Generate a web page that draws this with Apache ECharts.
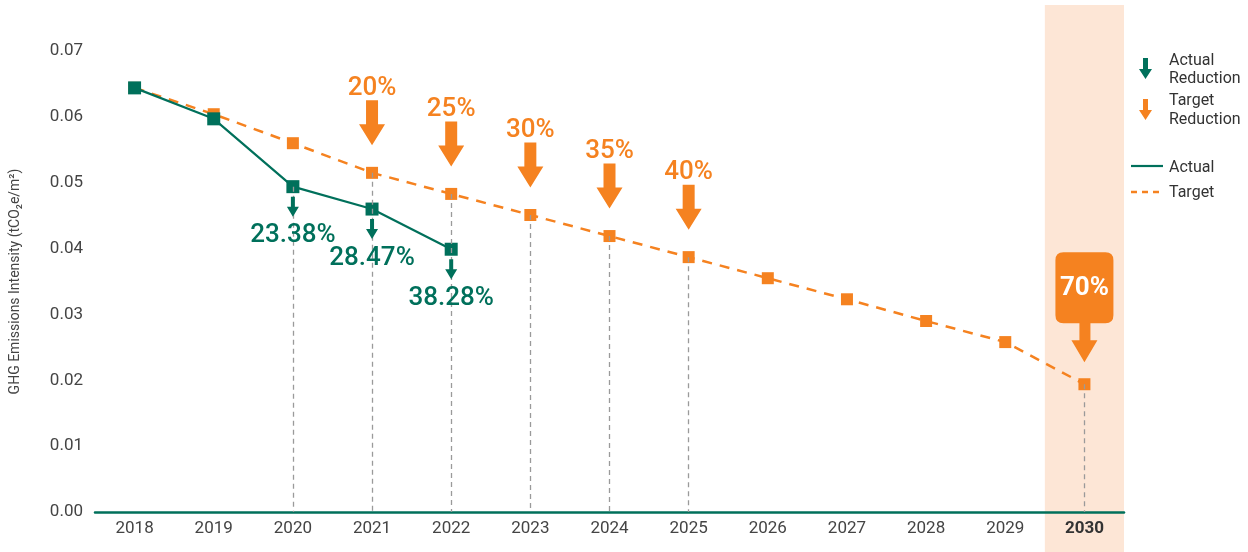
<!DOCTYPE html>
<html>
<head>
<meta charset="utf-8">
<script src="https://cdn.jsdelivr.net/npm/echarts@6/dist/echarts.min.js"></script>
<style>html,body{margin:0;padding:0;background:#fff}#c{width:1248px;height:552px}</style>
</head>
<body>
<div id="c"></div>
<script>
// ---- data ----
const years = ['2018','2019','2020','2021','2022','2023','2024','2025','2026','2027','2028','2029','2030'];
const actualValues = [0.0644, 0.0597, 0.0494, 0.0460, 0.0399, null, null, null, null, null, null, null, null];
const targetValues = [0.0644, 0.0604, 0.0560, 0.0515, 0.0483, 0.0451, 0.0419, 0.0387, 0.0355, 0.0323, 0.0290, 0.0258, 0.0194];
const actualReductionYears = ['2020','2021','2022'];
const actualReductionLabels = ['23.38%','28.47%','38.28%'];
const targetReductionYears = ['2021','2022','2023','2024','2025'];
const targetReductionLabels = ['20%','25%','30%','35%','40%'];
const finalTargetYear = '2030';
const finalTargetLabel = '70%';
const guideYears = ['2020','2021','2022','2023','2024','2025','2030'];
const yTicks = [0, 0.01, 0.02, 0.03, 0.04, 0.05, 0.06, 0.07];

const GREEN = '#00705b';
const ORANGE = '#f58220';
const FONT = 'Roboto, "Noto Sans", sans-serif';

const idx = y => years.indexOf(y);
const guideData = guideYears.map(y => {
  const i = idx(y);
  const start = (y === '2020') ? actualValues[i] : targetValues[i];
  return [{coord: [y, start]}, {coord: [y, 0]}];
});

const bigArrow = 'path://M7,0 H19 V24 H26 L13,45 L0,24 H7 Z';
const smallArrow = 'path://M4,0 H8 V10 H12 L6,20 L0,10 H4 Z';
const callout = 'path://M8,0 H50 Q58,0 58,8 V63 Q58,71 50,71 H35 V88 H42 L29,110 L16,88 H24 V71 H8 Q0,71 0,63 V8 Q0,0 8,0 Z';

const chart = echarts.init(document.getElementById('c'), null, {renderer: 'canvas'});
const option = {
  animation: false,
  textStyle: {fontFamily: FONT},
  grid: {left: 95, right: 124, top: 51, bottom: 40, containLabel: false},
  xAxis: {
    type: 'category',
    data: years,
    boundaryGap: true,
    axisLine: {show: true, lineStyle: {color: GREEN, width: 2.5}},
    axisTick: {show: false},
    axisLabel: {
      interval: 0,
      color: '#444', fontSize: 17, margin: 8, fontFamily: FONT,
      formatter: v => v === finalTargetYear ? '{b|' + v + '}' : v,
      rich: {b: {fontWeight: 'bold', fontSize: 17, color: '#333', fontFamily: FONT}}
    },
    splitLine: {show: false}
  },
  yAxis: {
    type: 'value',
    min: yTicks[0], max: yTicks[yTicks.length - 1], interval: 0.01,
    axisLine: {show: false}, axisTick: {show: false}, splitLine: {show: false},
    axisLabel: {color: '#444', fontSize: 17, margin: 12, fontFamily: FONT, formatter: v => v.toFixed(2)},
    name: 'GHG Emissions Intensity (tCO₂e/m²)',
    nameLocation: 'middle', nameGap: 73,
    nameTextStyle: {color: '#444', fontSize: 14, fontFamily: FONT}
  },
  series: [
    {
      type: 'line', name: 'guides', data: [], z: 1, silent: true,
      markLine: {
        silent: true, symbol: 'none', label: {show: false},
        lineStyle: {color: '#9a9a9a', type: [5, 4], width: 1.3},
        data: guideData
      }
    },
    {
      type: 'line', name: 'Target', data: targetValues, z: 3,
      symbol: 'rect', symbolSize: 12,
      lineStyle: {color: ORANGE, width: 2.5, type: [10, 8]},
      itemStyle: {color: ORANGE}
    },
    {
      type: 'line', name: 'Actual', data: actualValues, z: 4,
      symbol: 'rect', symbolSize: 13,
      lineStyle: {color: GREEN, width: 2.2},
      itemStyle: {color: GREEN}
    },
    {
      type: 'scatter', name: 'actualArrows', z: 5,
      symbol: smallArrow, symbolSize: [12, 20], symbolOffset: [0, 20],
      itemStyle: {color: GREEN, opacity: 1},
      label: {show: true, position: 'bottom', distance: 6, color: GREEN, fontSize: 26, fontWeight: 500, fontFamily: FONT,
        formatter: p => actualReductionLabels[p.dataIndex]},
      data: actualReductionYears.map(y => [y, actualValues[idx(y)]])
    },
    {
      type: 'scatter', name: 'targetArrows', z: 5,
      symbol: bigArrow, symbolSize: [26, 45], symbolOffset: [0, -50],
      itemStyle: {color: ORANGE, opacity: 1},
      label: {show: true, position: 'top', distance: -1, color: ORANGE, fontSize: 26, fontWeight: 500, fontFamily: FONT,
        formatter: p => targetReductionLabels[p.dataIndex]},
      data: targetReductionYears.map(y => [y, targetValues[idx(y)]])
    },
    {
      type: 'scatter', name: 'finalCallout', z: 5,
      symbol: callout, symbolSize: [58, 110], symbolOffset: [0, -77],
      itemStyle: {color: ORANGE, opacity: 1},
      label: {show: true, position: 'inside', offset: [0, -19], color: '#fff', fontSize: 26, fontWeight: 'bold', fontFamily: FONT,
        formatter: () => finalTargetLabel},
      data: [[finalTargetYear, targetValues[idx(finalTargetYear)]]]
    }
  ]
};
chart.setOption(option);

// shaded band behind 2030 column and legend
const x1 = chart.convertToPixel({xAxisIndex: 0}, finalTargetYear);
const x0 = chart.convertToPixel({xAxisIndex: 0}, years[years.length - 2]);
const bw = x1 - x0;
const legendText = (x, y, t) => ({type: 'text', left: x, top: y - 9, style: {text: t, fill: '#333', font: '16px ' + FONT}, z: 10});
const legendArrow = (x, y, c) => ({type: 'polygon', shape: {points: [[x + 4, y], [x + 9, y], [x + 9, y + 11], [x + 13, y + 11], [x + 6.5, y + 21], [x, y + 11], [x + 4, y + 11]]}, style: {fill: c}, z: 10});
chart.setOption({
  graphic: [
    {type: 'rect', shape: {x: x1 - bw / 2, y: 5, width: bw, height: 552}, style: {fill: '#fde6d6'}, z: -10, silent: true},
    legendArrow(1139, 58, GREEN),
    legendText(1169, 62, 'Actual'),
    legendText(1169, 80, 'Reduction'),
    legendArrow(1139, 99, ORANGE),
    legendText(1169, 102, 'Target'),
    legendText(1169, 121, 'Reduction'),
    {type: 'line', shape: {x1: 1131, y1: 166, x2: 1163, y2: 166}, style: {stroke: GREEN, lineWidth: 2.2}, z: 10},
    legendText(1169, 169, 'Actual'),
    {type: 'line', shape: {x1: 1131, y1: 192, x2: 1163, y2: 192}, style: {stroke: ORANGE, lineWidth: 2.5, lineDash: [6, 5]}, z: 10},
    legendText(1169, 194, 'Target')
  ]
});
</script>
</body>
</html>
